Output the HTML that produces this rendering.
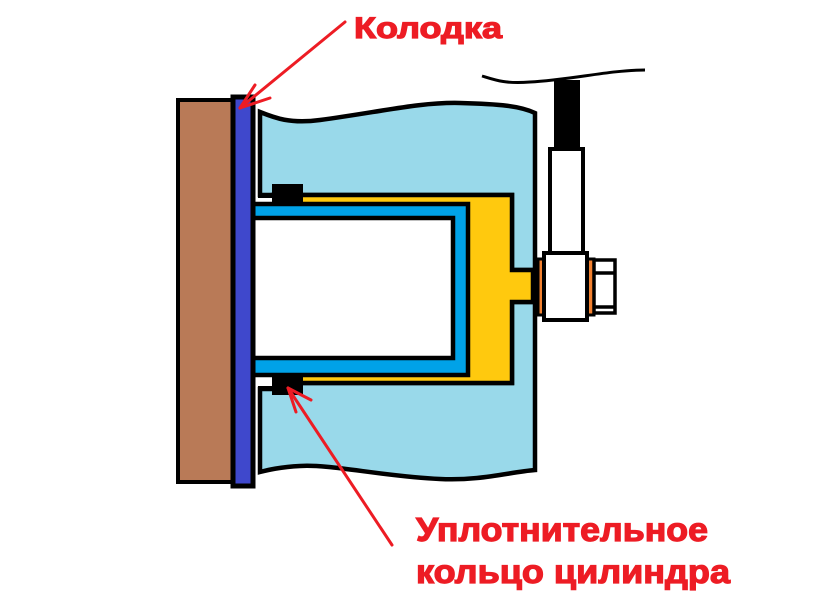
<!DOCTYPE html>
<html><head><meta charset="utf-8"><style>
html,body{margin:0;padding:0;background:#fff;width:836px;height:597px;overflow:hidden}
svg{display:block}
text{font-family:"Liberation Sans",sans-serif;font-weight:bold;fill:#ed1c24;stroke:#ed1c24;stroke-width:1.2}
</style></head><body>
<svg width="836" height="597" viewBox="0 0 836 597">
<rect x="178" y="100" width="55" height="382" fill="#b97a57" stroke="#000" stroke-width="4"/>
<rect x="233" y="97" width="20" height="389" fill="#3f48cc" stroke="#000" stroke-width="5"/>
<path d="M260,112 C275,118 290,124 320,120 C380,112 420,102 460,103 C500,104 520,106 535,113 L535,470 C510,472 480,481 440,479 C380,476 330,464 300,466 C280,467 268,470 260,472 L260,389 L273,389 L273,383 L512,383 L512,302 L533,302 L533,270 L512,270 L512,195 L273,195 L260,195 Z" fill="#99d9ea" stroke="#000" stroke-width="4.5" stroke-linejoin="miter"/>
<path d="M273,195 L512,195 L512,270 L533,270 L533,302 L512,302 L512,383 L273,383 Z" fill="#ffc90e" stroke="#000" stroke-width="4.5"/>
<rect x="256" y="198" width="17" height="6" fill="#fff"/>
<rect x="256" y="375" width="17" height="11" fill="#fff"/>
<line x1="258" y1="196" x2="273" y2="196" stroke="#000" stroke-width="4"/>
<line x1="258" y1="388" x2="273" y2="388" stroke="#000" stroke-width="4"/>
<path d="M254,204 L468,204 L468,375 L254,375" fill="#00a2e8" stroke="#000" stroke-width="4.5"/>
<path d="M254,218 L453,218 L453,358 L254,358" fill="#fff" stroke="#000" stroke-width="4.5"/>
<rect x="272" y="184" width="31" height="19" fill="#000"/>
<rect x="272" y="376" width="31" height="19" fill="#000"/>
<line x1="253" y1="97" x2="253" y2="486" stroke="#000" stroke-width="5"/>
<path d="M482,76 C495,80 505,84 530,82 C570,80 610,70 645,70" fill="none" stroke="#000" stroke-width="3"/>
<rect x="554" y="80" width="26" height="70" fill="#000"/>
<rect x="550" y="149" width="33" height="105" fill="#fff" stroke="#000" stroke-width="4"/>
<rect x="538" y="259" width="8" height="56" fill="#f28130" stroke="#000" stroke-width="3"/>
<rect x="586" y="259" width="8" height="56" fill="#f28130" stroke="#000" stroke-width="3"/>
<rect x="594" y="260" width="21" height="53" fill="#fff" stroke="#000" stroke-width="3.5"/>
<line x1="594" y1="273" x2="615" y2="273" stroke="#000" stroke-width="3.5"/>
<line x1="594" y1="307" x2="615" y2="307" stroke="#000" stroke-width="3.5"/>
<rect x="544" y="253" width="43" height="67" fill="#fff" stroke="#000" stroke-width="4"/>
<g stroke="#ed1c24" stroke-width="3" fill="none" stroke-linecap="round">
<line x1="345" y1="22" x2="240" y2="108"/>
<line x1="240" y1="108" x2="255" y2="85"/>
<line x1="240" y1="108" x2="270" y2="98"/>
<line x1="392" y1="545" x2="288" y2="388"/>
<line x1="288" y1="388" x2="296" y2="412"/>
<line x1="288" y1="388" x2="311" y2="400"/>
</g>
<text x="354" y="38" font-size="30" textLength="148" lengthAdjust="spacingAndGlyphs">Колодка</text>
<text x="416" y="541" font-size="33" textLength="292" lengthAdjust="spacingAndGlyphs">Уплотнительное</text>
<text x="416" y="583" font-size="33" textLength="314" lengthAdjust="spacingAndGlyphs">кольцо цилиндра</text>
</svg>
</body></html>
